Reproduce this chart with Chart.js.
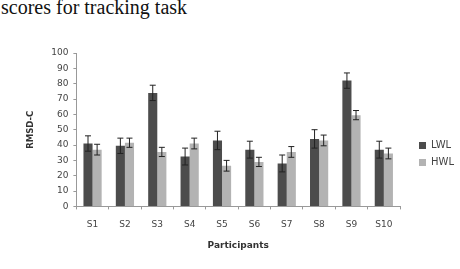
<!DOCTYPE html>
<html>
<head>
<meta charset="utf-8">
<script src="https://cdn.jsdelivr.net/npm/chart.js@4/dist/chart.umd.min.js"></script>
<style>
  body { margin: 0; background: #fff; }
  #wrap { position: relative; width: 460px; height: 269px; overflow: hidden; }
  #caption { position: absolute; left: 1px; top: -4px; font-family: "Liberation Serif", serif; font-size: 20px; color: #111; white-space: nowrap; }
  canvas { position: absolute; left: 0; top: 0; }
</style>
</head>
<body>
<div id="wrap">
  <div id="caption">scores for tracking task</div>
  <canvas id="myChart" width="460" height="269"></canvas>
</div>
<script>
const participants = ['S1', 'S2', 'S3', 'S4', 'S5', 'S6', 'S7', 'S8', 'S9', 'S10'];
const lwlValues = [41, 39.5, 74, 32.5, 43, 37, 28, 44, 82, 37];
const lwlErrors = [5, 5, 5, 5.5, 6, 5.5, 5.5, 6, 5, 5.5];
const hwlValues = [37, 41.5, 35.5, 41, 26.5, 29, 35.5, 43, 59.5, 34.5];
const hwlErrors = [3.5, 3, 3, 3.5, 3.5, 3, 3.5, 3.5, 3, 3.5];

// draws the +/- error whiskers over every bar through the y scale
const errorBars = {
  id: 'errorBars',
  afterDatasetsDraw(chart) {
    const ctx = chart.ctx;
    const yScale = chart.scales.y;
    chart.data.datasets.forEach((ds, i) => {
      const meta = chart.getDatasetMeta(i);
      meta.data.forEach((bar, j) => {
        const v = ds.data[j];
        const e = ds.errors[j];
        const top = yScale.getPixelForValue(v + e);
        const bottom = yScale.getPixelForValue(v - e);
        ctx.save();
        ctx.strokeStyle = '#222';
        ctx.lineWidth = 1;
        ctx.beginPath();
        ctx.moveTo(bar.x, top);
        ctx.lineTo(bar.x, bottom);
        ctx.moveTo(bar.x - 3, top);
        ctx.lineTo(bar.x + 3, top);
        ctx.moveTo(bar.x - 3, bottom);
        ctx.lineTo(bar.x + 3, bottom);
        ctx.stroke();
        ctx.restore();
      });
    });
  }
};

const ctx = document.getElementById('myChart').getContext('2d');
new Chart(ctx, {
  type: 'bar',
  data: {
    labels: participants,
    datasets: [
      {
        label: 'LWL',
        data: lwlValues,
        errors: lwlErrors,
        backgroundColor: '#4c4c4c',
        barPercentage: 1,
        categoryPercentage: 0.5625
      },
      {
        label: 'HWL',
        data: hwlValues,
        errors: hwlErrors,
        backgroundColor: '#b3b3b3',
        barPercentage: 1,
        categoryPercentage: 0.5625
      }
    ]
  },
  options: {
    responsive: false,
    animation: false,
    layout: {
      padding: { left: 22, right: -4, top: 53, bottom: 14 }
    },
    plugins: {
      legend: {
        position: 'right',
        align: 'center',
        labels: {
          boxWidth: 7,
          boxHeight: 7,
          padding: 7,
          color: '#444',
          font: { family: 'DejaVu Sans', size: 10 }
        }
      },
      tooltip: { enabled: false }
    },
    scales: {
      x: {
        grid: { drawOnChartArea: false, drawTicks: true, tickLength: 3, color: '#999' },
        border: { color: '#999' },
        ticks: { color: '#444', font: { family: 'DejaVu Sans', size: 9 }, padding: 10 },
        title: {
          display: true,
          text: 'Participants',
          color: '#333',
          font: { family: 'DejaVu Sans', size: 9, weight: 'bold' },
          padding: { top: 0 }
        }
      },
      y: {
        min: 0,
        max: 100,
        grid: { drawOnChartArea: false, drawTicks: true, tickLength: 3, color: '#999' },
        border: { color: '#999' },
        ticks: { stepSize: 10, color: '#444', font: { family: 'DejaVu Sans', size: 9 }, padding: 5 },
        title: {
          display: true,
          text: 'RMSD-C',
          color: '#333',
          font: { family: 'DejaVu Sans', size: 8.5, weight: 'bold' },
          padding: { bottom: 10 }
        }
      },
      // empty spacer between the plot and the legend
      gap: {
        position: 'right',
        display: true,
        grid: { display: false },
        border: { display: false },
        ticks: { display: false },
        afterFit(scale) { scale.width = 12; }
      }
    }
  },
  plugins: [errorBars]
});
</script>
</body>
</html>
